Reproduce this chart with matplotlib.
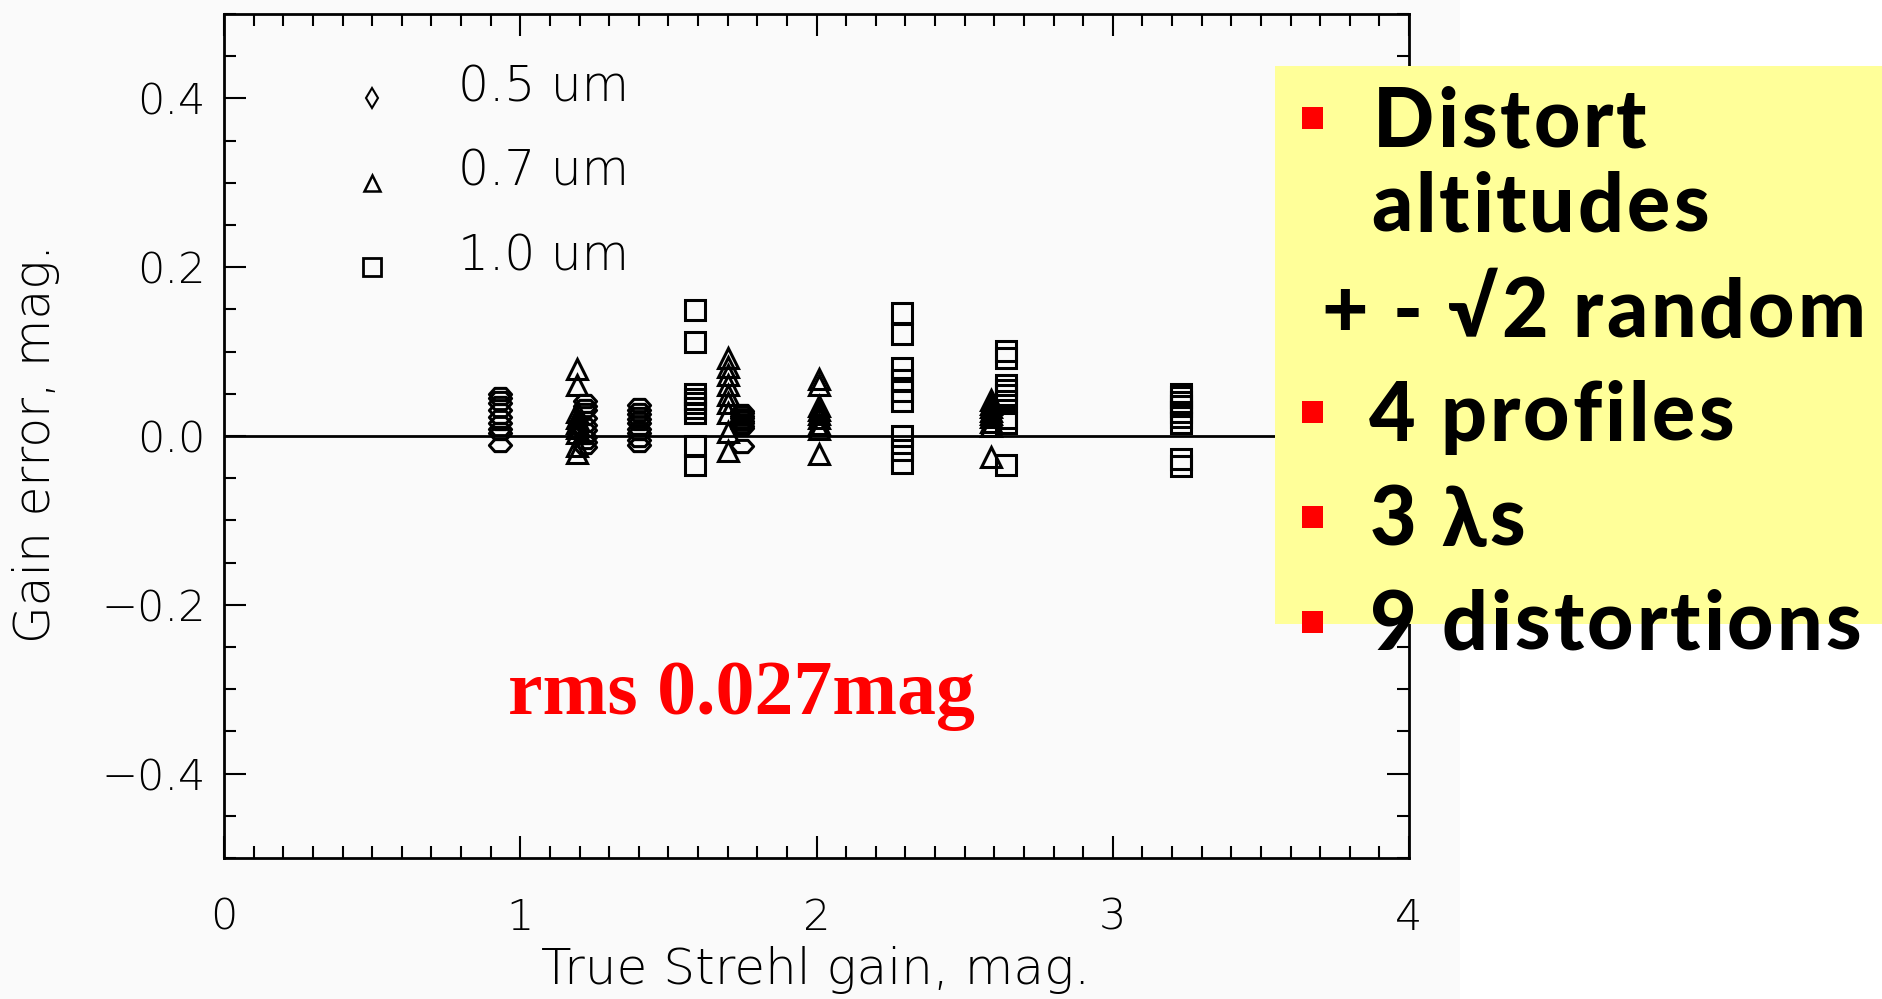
import matplotlib
matplotlib.use("Agg")
import matplotlib.pyplot as plt
from matplotlib import font_manager, ft2font
from matplotlib.patches import Rectangle
from matplotlib.path import Path
from matplotlib.ticker import FixedLocator, MultipleLocator

# True Strehl gain (one column per turbulence profile) for each wavelength
gain_05um = [0.93, 1.22, 1.40, 1.75]
gain_07um = [1.19, 1.70, 2.01, 2.59]
gain_10um = [1.59, 2.29, 2.64, 3.23]

# Gain error (mag) for the 9 distortions of each profile
err_05um = [
    [0.050, 0.045, 0.039, 0.031, 0.022, 0.015, 0.008, 0.003, -0.011],
    [0.042, 0.036, 0.031, 0.021, 0.013, 0.007, -0.001, -0.007, -0.013],
    [0.037, 0.031, 0.026, 0.020, 0.015, 0.008, 0.003, -0.005, -0.011],
    [0.030, 0.027, 0.024, 0.021, 0.018, 0.015, 0.012, 0.009, -0.012],
]
err_07um = [
    [0.079, 0.060, 0.029, 0.021, 0.015, 0.009, 0.004, -0.012, -0.020],
    [0.092, 0.082, 0.072, 0.060, 0.049, 0.039, 0.027, 0.005, -0.018],
    [0.067, 0.060, 0.036, 0.031, 0.026, 0.021, 0.014, 0.008, -0.021],
    [0.043, 0.038, 0.034, 0.030, 0.026, 0.022, 0.017, 0.012, -0.025],
]
err_10um = [
    [0.149, 0.111, 0.050, 0.044, 0.039, 0.033, 0.027, -0.012, -0.034],
    [0.146, 0.121, 0.080, 0.066, 0.053, 0.041, 0.000, -0.016, -0.032],
    [0.101, 0.093, 0.060, 0.054, 0.048, 0.042, 0.021, 0.015, -0.034],
    [0.050, 0.046, 0.040, 0.035, 0.029, 0.022, 0.015, -0.027, -0.035],
]

legend_labels = ["0.5 um", "0.7 um", "1.0 um"]
xtick_values = [0, 1, 2, 3, 4]
xtick_labels = ["0", "1", "2", "3", "4"]
ytick_values = [-0.4, -0.2, 0.0, 0.2, 0.4]
ytick_labels = ["\u22120.4", "\u22120.2", "0.0", "0.2", "0.4"]
bullet_lines = ["Distort", "altitudes", "+ - \u221a2 random",
                "4 profiles", "3 \u03bbs", "9 distortions"]
rms_text = "rms 0.027mag"

W, H = 1882, 999
DPI = 100
fig = plt.figure(figsize=(W / DPI, H / DPI), dpi=DPI)
fig.patch.set_facecolor("white")

# light grey panel behind the plot
fig.add_artist(Rectangle((0, 0), 1460 / W, 1, transform=fig.transFigure,
                         facecolor="#fafafa", edgecolor="none", zorder=-5))

ax_l, ax_r, ax_t, ax_b = 224, 1409, 14, 858
ax = fig.add_axes([ax_l / W, 1 - ax_b / H, (ax_r - ax_l) / W, (ax_b - ax_t) / H])
ax.set_facecolor("none")
ax.set_xlim(0, 4)
ax.set_ylim(-0.5, 0.5)

# flattened diamond used for the 0.5 um points
hexa = Path([(-1, 0), (-0.5, 0.55), (0.5, 0.55), (1, 0), (0.5, -0.55),
             (-0.5, -0.55), (-1, 0)],
            [Path.MOVETO] + [Path.LINETO] * 5 + [Path.CLOSEPOLY])

ax.axhline(0, color="black", lw=2.0, zorder=1)

style = dict(linestyle="none", markerfacecolor="none", markeredgecolor="black",
             zorder=3)
for gx, col in zip(gain_05um, err_05um):
    ax.plot([gx] * len(col), col, marker=hexa, ms=16, mew=2.2, **style)
for gx, col in zip(gain_07um, err_07um):
    ax.plot([gx] * len(col), col, marker="^", ms=14, mew=2.2, **style)
for gx, col in zip(gain_10um, err_10um):
    ax.plot([gx] * len(col), col, marker="s", ms=15, mew=2.2, **style)

# key
key_y = [0.40, 0.30, 0.20]
key_markers = [("d", 10, 1.5), ("^", 12, 1.8), ("s", 13, 2.0)]
for yk, (mk, ms, mw), lab in zip(key_y, key_markers, legend_labels):
    ax.plot([0.5], [yk], marker=mk, ms=ms, mew=mw, **style)
    ax.text(0.79, yk + 0.013, lab, fontsize=35, va="center", ha="left",
            family="DejaVu Sans", fontweight="light")

ax.xaxis.set_major_locator(FixedLocator(xtick_values))
ax.set_xticklabels(xtick_labels)
ax.xaxis.set_minor_locator(MultipleLocator(0.1))
ax.yaxis.set_major_locator(FixedLocator(ytick_values))
ax.set_yticklabels(ytick_labels)
ax.yaxis.set_minor_locator(MultipleLocator(0.05))

for s in ax.spines.values():
    s.set_linewidth(2.0)
ax.tick_params(which="both", direction="in", top=True, right=True,
               width=1.5, labelsize=31)
ax.tick_params(which="major", length=16)
ax.tick_params(which="minor", length=8.5)
ax.tick_params(axis="x", pad=28)
ax.tick_params(axis="y", pad=13)
for lab in ax.get_xticklabels() + ax.get_yticklabels():
    lab.set_family("DejaVu Sans")
    lab.set_fontweight("light")

fig.text(816 / W, 1 - 970 / H, "True Strehl gain, mag.", fontsize=36,
         ha="center", va="center", family="DejaVu Sans", fontweight="light")
fig.text(36 / W, 1 - 444 / H, "Gain error, mag.", fontsize=35, rotation=90,
         ha="center", va="center", family="DejaVu Sans", fontweight="light")

fig.text(508 / W, 1 - 714 / H, rms_text, fontsize=56, color="red",
         family="Liberation Serif", fontweight="bold", ha="left",
         va="baseline", zorder=4)

# yellow note box
fig.add_artist(Rectangle((1275 / W, 1 - 624 / H), 1 - 1275 / W, (624 - 66) / H,
                         transform=fig.transFigure, facecolor="#ffff99",
                         edgecolor="none", zorder=5))

NOTE_SIZE = 58
TRACK = 3.0  # extra pixels between letters


def note_font(family):
    fp = font_manager.FontProperties(family=family, weight="black")
    f = ft2font.FT2Font(font_manager.findfont(fp))
    f.set_size(NOTE_SIZE, DPI)
    return f


primary = note_font("Lato")
backup = note_font("DejaVu Sans")


def spaced_text(x, y, s):
    for ch in s:
        f, fam = primary, "Lato"
        if f.get_char_index(ord(ch)) == 0:
            f, fam = backup, "DejaVu Sans"
        fig.text(x / W, 1 - y / H, ch, fontsize=NOTE_SIZE, fontweight="black",
                 family=fam, ha="left", va="baseline", color="black",
                 zorder=7)
        g = f.load_char(ord(ch))
        x += g.linearHoriAdvance / 65536 + TRACK


line_pos = [(1373, 147), (1371, 232), (1321, 337), (1369, 441), (1370, 546),
            (1370, 650)]
bullet_y = [118, None, None, 412, 517, 622]
for txt, (lx, ly), by in zip(bullet_lines, line_pos, bullet_y):
    spaced_text(lx, ly, txt)
    if by is not None:
        fig.add_artist(Rectangle((1302 / W, 1 - (by + 11) / H), 21 / W, 22 / H,
                                 transform=fig.transFigure, facecolor="red",
                                 edgecolor="none", zorder=6))

fig.savefig("out.png", dpi=DPI)
